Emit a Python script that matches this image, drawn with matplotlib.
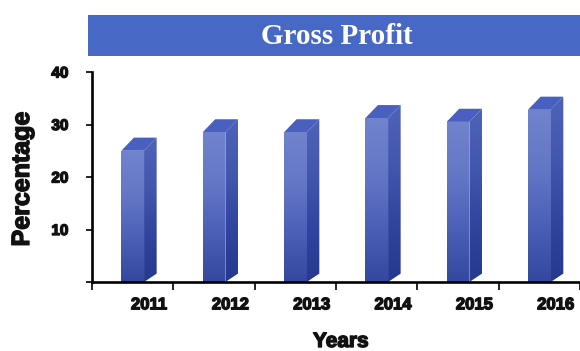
import numpy as np
import matplotlib
matplotlib.use('Agg')
import matplotlib.pyplot as plt
from matplotlib.patches import Polygon, Rectangle
from matplotlib.colors import to_rgb
import matplotlib.patheffects as pe

# gross profit per year (percentage)
years = ['2011', '2012', '2013', '2014', '2015', '2016']
profit = [25.0, 28.5, 28.5, 31.2, 30.5, 32.8]

title = 'Gross Profit'
xlabel = 'Years'
ylabel = 'Percentage'
yticks = [10, 20, 30, 40]

plt.rcParams['font.family'] = ['Liberation Sans', 'DejaVu Sans']


def gradient(stops, n=64):
    # vertical colour ramp, first stop at the top
    pos = np.linspace(0, 1, len(stops))
    cols = np.array([to_rgb(c) for c in stops])
    t = np.linspace(0, 1, n)
    rgb = np.stack([np.interp(t, pos, cols[:, k]) for k in range(3)], axis=-1)
    return rgb[:, None, :]


def shaded(ax, verts, stops):
    poly = Polygon(verts, closed=True, facecolor='none', edgecolor='none')
    ax.add_patch(poly)
    xs = [v[0] for v in verts]
    ys = [v[1] for v in verts]
    im = ax.imshow(gradient(stops), extent=(min(xs), max(xs), min(ys), max(ys)),
                   aspect='auto', origin='upper', interpolation='bilinear', zorder=2)
    im.set_clip_path(poly)


fig = plt.figure(figsize=(5.8, 3.51), dpi=100)
ax = fig.add_axes([92 / 580, 69 / 351, 488 / 580, 210 / 351])

# bar geometry inside each category slot
x0, x1, dx, dy = 0.36, 0.64, 0.155, 2.5
front = ['#7183cd', '#6477c6', '#4c60b8', '#34489f']
side = ['#4e62b8', '#4357ae', '#31459e', '#26398f']
top = ['#4960c0', '#4960c0']

for i, v in enumerate(profit):
    a, b = i + x0, i + x1
    shaded(ax, [(a, 0), (a, v), (b, v), (b, 0)], front)
    shaded(ax, [(b, 0), (b, v), (b + dx, v + dy), (b + dx, 1.6)], side)
    shaded(ax, [(a, v), (a + dx, v + dy), (b + dx, v + dy), (b, v)], top)

ax.set_xlim(0, 6)
ax.set_ylim(0, 40)

for s in ['top', 'right']:
    ax.spines[s].set_visible(False)
for s in ['left', 'bottom']:
    ax.spines[s].set_linewidth(1.9)
    ax.spines[s].set_zorder(5)

heavy = [pe.withStroke(linewidth=1.0, foreground='#111111')]

ax.set_xticks(range(7))
ax.set_xticklabels([])
ax.tick_params(axis='x', which='major', direction='out', length=6, width=1.2)
ax.set_xticks([i + 0.7 for i in range(len(years))], minor=True)
ax.set_xticklabels(years, minor=True, fontsize=12, fontweight='bold',
                   color='#111111', path_effects=heavy)
ax.tick_params(axis='x', which='minor', length=0, pad=11)

ax.set_yticks([0] + yticks)
ax.set_yticklabels([''] + [str(t) for t in yticks], fontsize=11, fontweight='bold',
                   color='#111111', path_effects=heavy)
ax.tick_params(axis='y', direction='out', length=4, width=1.2, pad=13)

fig.text(341 / 580, 1 - 332 / 351, xlabel, ha='center', va='top', fontsize=15,
         fontweight='bold', color='#111111', path_effects=heavy)
fig.text(22 / 580, 1 - 179 / 351, ylabel, ha='center', va='center', rotation=90,
         fontsize=18, fontweight='bold', color='#111111', path_effects=heavy)

# title banner
fig.patches.append(Rectangle((88 / 580, 1 - 56 / 351), 1 - 88 / 580, 41 / 351,
                             transform=fig.transFigure, facecolor='#4769c5',
                             edgecolor='none', zorder=0))
fig.text(337 / 580, 1 - 37 / 351, title, ha='center', va='center', fontsize=21,
         fontweight='bold', family='Liberation Serif', color='white')

fig.savefig('out.png', dpi=100)
